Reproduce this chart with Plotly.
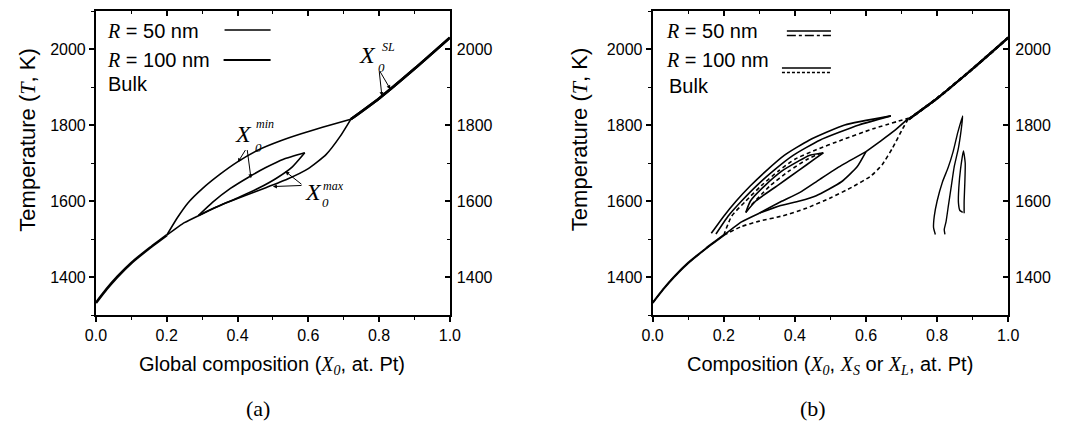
import plotly.graph_objects as go

# ---------------- data ----------------
# shared bulk branches (temperature in K vs composition)
bulk_lo_x = [0.0, 0.03, 0.06, 0.10, 0.15, 0.20]
bulk_lo_T = [1332, 1368, 1400, 1437, 1475, 1510]
bulk_hi_x = [0.72, 0.80, 0.90, 1.00]
bulk_hi_T = [1815, 1870, 1948, 2030]

# panel (a): global composition limits
a100_min_x = [0.20, 0.23, 0.26, 0.30, 0.35, 0.40, 0.46, 0.52, 0.58, 0.64, 0.72]
a100_min_T = [1510, 1556, 1595, 1632, 1670, 1703, 1735, 1758, 1777, 1794, 1815]
a100_max_x = [0.20, 0.25, 0.30, 0.36, 0.42, 0.48, 0.54, 0.60, 0.65, 0.69, 0.72]
a100_max_T = [1510, 1543, 1566, 1592, 1614, 1635, 1657, 1685, 1722, 1770, 1815]
a50_min_x = [0.29, 0.33, 0.38, 0.43, 0.48, 0.53, 0.59]
a50_min_T = [1562, 1597, 1633, 1662, 1688, 1710, 1727]
a50_max_x = [0.29, 0.34, 0.40, 0.46, 0.51, 0.555, 0.59]
a50_max_T = [1562, 1584, 1608, 1634, 1660, 1690, 1727]

# panel (b): solid / liquid compositions
b_o1_x = [0.165, 0.20, 0.235, 0.275, 0.32, 0.37, 0.44, 0.54, 0.67]
b_o1_T = [1515, 1560, 1600, 1640, 1680, 1720, 1760, 1800, 1824]
b_o2_x = [0.178, 0.212, 0.25, 0.292, 0.34, 0.395, 0.47, 0.58, 0.67]
b_o2_T = [1513, 1560, 1600, 1640, 1680, 1720, 1760, 1800, 1824]
b_dup_x = [0.20, 0.222, 0.262, 0.305, 0.355, 0.40, 0.46, 0.53, 0.62, 0.72]
b_dup_T = [1510, 1560, 1600, 1640, 1680, 1710, 1735, 1760, 1790, 1818]
b_u1_x = [0.262, 0.275, 0.315, 0.365, 0.41, 0.44, 0.48]
b_u1_T = [1570, 1600, 1640, 1680, 1705, 1720, 1727]
b_u2_x = [0.278, 0.33, 0.385, 0.435, 0.47]
b_u2_T = [1590, 1640, 1680, 1710, 1725]
b_u3_x = [0.262, 0.29, 0.35, 0.41, 0.455, 0.48]
b_u3_T = [1570, 1600, 1640, 1680, 1710, 1727]
b_trunk_x = [0.20, 0.25, 0.30]
b_trunk_T = [1510, 1545, 1568]
b_lup_x = [0.30, 0.36, 0.413, 0.47, 0.53, 0.60]
b_lup_T = [1568, 1598, 1622, 1657, 1693, 1730]
b_llo_x = [0.30, 0.36, 0.413, 0.46, 0.53, 0.575, 0.60]
b_llo_T = [1568, 1588, 1600, 1614, 1650, 1690, 1730]
b_lcont_x = [0.60, 0.64, 0.68, 0.72]
b_lcont_T = [1730, 1757, 1785, 1818]
b_dlo_x = [0.20, 0.25, 0.30, 0.366, 0.43, 0.504, 0.56, 0.614, 0.645, 0.675, 0.70, 0.72]
b_dlo_T = [1510, 1533, 1547, 1561, 1580, 1610, 1636, 1666, 1695, 1740, 1785, 1818]
b_loop1_x = [0.795, 0.79, 0.792, 0.80, 0.815, 0.831, 0.845, 0.858, 0.872, 0.868, 0.86, 0.848, 0.84, 0.832, 0.825, 0.82, 0.822]
b_loop1_T = [1512, 1530, 1560, 1600, 1650, 1688, 1730, 1780, 1824, 1790, 1740, 1690, 1640, 1590, 1545, 1525, 1512]
b_loop2_x = [0.872, 0.864, 0.86, 0.861, 0.866, 0.874, 0.879, 0.878, 0.876, 0.876]
b_loop2_T = [1570, 1575, 1595, 1635, 1685, 1732, 1700, 1650, 1600, 1568]

x_ticks = [0.0, 0.2, 0.4, 0.6, 0.8, 1.0]
T_ticks = [1400, 1600, 1800, 2000]

W, H = 1079, 427
SANS = "Liberation Sans"
SERIF = "Liberation Serif"

fig = go.Figure()


def line(x, y, xa, ya, dash="solid", width=1.6):
    fig.add_trace(go.Scatter(x=x, y=y, mode="lines", xaxis=xa, yaxis=ya,
                             line=dict(color="black", width=width, dash=dash,
                                       shape="spline", smoothing=0.5),
                             showlegend=False, hoverinfo="skip"))


# panel (a)
line(bulk_lo_x, bulk_lo_T, "x", "y", width=2.6)
line(bulk_hi_x, bulk_hi_T, "x", "y", width=2.6)
line(bulk_hi_x, bulk_hi_T, "x3", "y2", width=2.6)   # same line on the mirrored axes
line(a100_min_x, a100_min_T, "x", "y")
line(a100_max_x, a100_max_T, "x", "y")
line(a50_min_x, a50_min_T, "x", "y")
line(a50_max_x, a50_max_T, "x", "y")

# panel (b)
line(bulk_lo_x, bulk_lo_T, "x2", "y3", width=2.2)
line(bulk_hi_x, bulk_hi_T, "x2", "y3", width=2.2)
line(bulk_hi_x, bulk_hi_T, "x4", "y4", width=2.2)   # same line on the mirrored axes
line(bulk_lo_x, bulk_lo_T, "x2", "y3", dash="4px,3px", width=1.4)
line(bulk_hi_x, bulk_hi_T, "x2", "y3", dash="4px,3px", width=2.6)
line(b_o1_x, b_o1_T, "x2", "y3")
line(b_o2_x, b_o2_T, "x2", "y3")
line(b_dup_x, b_dup_T, "x2", "y3", dash="4px,3px")
line(b_u1_x, b_u1_T, "x2", "y3")
line(b_u2_x, b_u2_T, "x2", "y3", dash="4px,3px")
line(b_u3_x, b_u3_T, "x2", "y3")
line(b_trunk_x, b_trunk_T, "x2", "y3")
line(b_lup_x, b_lup_T, "x2", "y3")
line(b_llo_x, b_llo_T, "x2", "y3")
line(b_lcont_x, b_lcont_T, "x2", "y3")
line(b_dlo_x, b_dlo_T, "x2", "y3", dash="4px,3px")
line(b_loop1_x, b_loop1_T, "x2", "y3", width=1.4)
line(b_loop2_x, b_loop2_T, "x2", "y3", width=1.4)

# ---------------- axes ----------------
dom_y = [1 - 315 / H, 1 - 11 / H]
dom_a = [86.7 / W, 448 / W]
dom_b = [655 / W, 1018 / W]
tickfont = dict(family=SANS, size=16, color="black")


def xax(dom, anchor):
    return dict(domain=dom, anchor=anchor, range=[0, 1], showline=True, linecolor="black",
                linewidth=2, mirror=True, showgrid=False, zeroline=False,
                tickmode="array", tickvals=x_ticks, ticktext=[f"{v:.1f}" for v in x_ticks],
                ticks="outside", ticklen=5, tickwidth=1.5, tickcolor="black",
                tickfont=tickfont,
                minor=dict(tickmode="linear", tick0=0, dtick=0.1, ticks="outside",
                           ticklen=3, tickcolor="black", tickwidth=1))


def xtop(over, anchor):
    return dict(overlaying=over, anchor=anchor, side="top", range=[0, 1], showline=False,
                showgrid=False, zeroline=False, showticklabels=False,
                tickmode="array", tickvals=x_ticks, ticks="inside", ticklen=5,
                tickwidth=1.5, tickcolor="black",
                minor=dict(tickmode="linear", tick0=0, dtick=0.1, ticks="inside",
                           ticklen=3, tickcolor="black", tickwidth=1))


def yax(anchor):
    return dict(domain=dom_y, anchor=anchor, range=[1300, 2100], showline=True,
                linecolor="black", linewidth=2, mirror=True, showgrid=False,
                zeroline=False, tickmode="array", tickvals=T_ticks,
                ticks="outside", ticklen=5, tickwidth=1.5, tickcolor="black",
                tickfont=tickfont,
                minor=dict(tickmode="linear", tick0=1300, dtick=100, ticks="outside",
                           ticklen=3, tickcolor="black", tickwidth=1))


def yright(over, anchor):
    return dict(overlaying=over, anchor=anchor, side="right", range=[1300, 2100],
                showline=False, showgrid=False, zeroline=False,
                tickmode="array", tickvals=T_ticks, ticks="inside", ticklen=5,
                tickwidth=1.5, tickcolor="black", tickfont=tickfont,
                ticklabelstandoff=6,
                minor=dict(tickmode="linear", tick0=1300, dtick=100, ticks="inside",
                           ticklen=3, tickcolor="black", tickwidth=1))


fig.update_layout(
    width=W, height=H, margin=dict(l=0, r=0, t=0, b=0),
    paper_bgcolor="white", plot_bgcolor="white",
    xaxis=xax(dom_a, "y"),
    yaxis=yax("x"),
    yaxis2=yright("y", "x"),
    xaxis3=xtop("x", "y"),
    xaxis2=xax(dom_b, "y3"),
    yaxis3=yax("x2"),
    yaxis4=yright("y3", "x2"),
    xaxis4=xtop("x2", "y3"),
)

# ---------------- text ----------------
ann = []


def ptext(txt, px, py, size=20, family=SANS, xanchor="center", angle=0):
    ann.append(dict(text=txt, x=px / W, y=1 - py / H, xref="paper", yref="paper",
                    xanchor=xanchor, yanchor="middle", showarrow=False, textangle=angle,
                    font=dict(family=family, size=size, color="black")))


it = lambda s: f"<span style='font-family:{SERIF}'><i>{s}</i></span>"

ptext(f"Temperature ({it('T')}, K)", 17, 140, size=22, angle=-90)
ptext(f"Temperature ({it('T')}, K)", 581, 140, size=22, angle=-90)
ptext(f"Global composition ({it('X')}<sub>{it('0')}</sub>, at. Pt)", 266, 365, size=20)
ptext(f"Composition ({it('X')}<sub>{it('0')}</sub>, {it('X')}<sub>{it('S')}</sub> or "
      f"{it('X')}<sub>{it('L')}</sub>, at. Pt)", 836, 365, size=20)
ptext("(a)", 252, 408, size=22, family=SERIF)
ptext("(b)", 819, 408, size=22, family=SERIF)

# legends
for lx in (96, 667):
    ptext(f"{it('R')} = 50 nm", lx, 31, size=20, xanchor="left")
    ptext(f"{it('R')} = 100 nm", lx, 60, size=20, xanchor="left")
ptext("Bulk", 97, 84, size=20, xanchor="left")
ptext("Bulk", 670, 86, size=20, xanchor="left")

shapes = []


def seg(x0, x1, py, dash="solid", width=1.4):
    shapes.append(dict(type="line", xref="paper", yref="paper", x0=x0 / W, x1=x1 / W,
                       y0=1 - py / H, y1=1 - py / H,
                       line=dict(color="black", width=width, dash=dash)))


seg(218, 265, 30)
seg(217, 265, 60, width=1.8)
seg(792, 837, 31)
seg(792, 837, 35.5, dash="dashdot")
seg(787, 837, 68)
seg(787, 837, 72.5, dash="3px,2px")


# data-anchored labels in panel (a)
def dtext(txt, x, T, size):
    ann.append(dict(text=txt, x=x, y=T, xref="x", yref="y", showarrow=False,
                    xanchor="center", yanchor="middle",
                    font=dict(family=SERIF, size=size, color="black")))


def arrow(x, T, ax, aT):
    ann.append(dict(text="", x=x, y=T, ax=ax, ay=aT, xref="x", yref="y", axref="x",
                    ayref="y", showarrow=True, arrowhead=2, arrowsize=0.8,
                    arrowwidth=1, arrowcolor="black"))


dtext("<i>X</i>", 0.418, 1776, 24)
dtext("<i>min</i>", 0.478, 1803, 12)
dtext("<i>0</i>", 0.458, 1742, 13)
arrow(0.401, 1702, 0.425, 1738)
arrow(0.438, 1660, 0.427, 1738)

dtext("<i>X</i>", 0.615, 1623, 24)
dtext("<i>max</i>", 0.672, 1640, 12)
dtext("<i>0</i>", 0.65, 1595, 13)
arrow(0.535, 1678, 0.585, 1641)
arrow(0.50, 1638, 0.585, 1641)

dtext("<i>X</i>", 0.768, 1984, 24)
dtext("<i>SL</i>", 0.828, 2006, 12)
dtext("<i>0</i>", 0.808, 1952, 13)
arrow(0.808, 1876, 0.80, 1945)
arrow(0.832, 1894, 0.80, 1945)

fig.update_layout(annotations=ann, shapes=shapes)
fig.write_html("out.html")
